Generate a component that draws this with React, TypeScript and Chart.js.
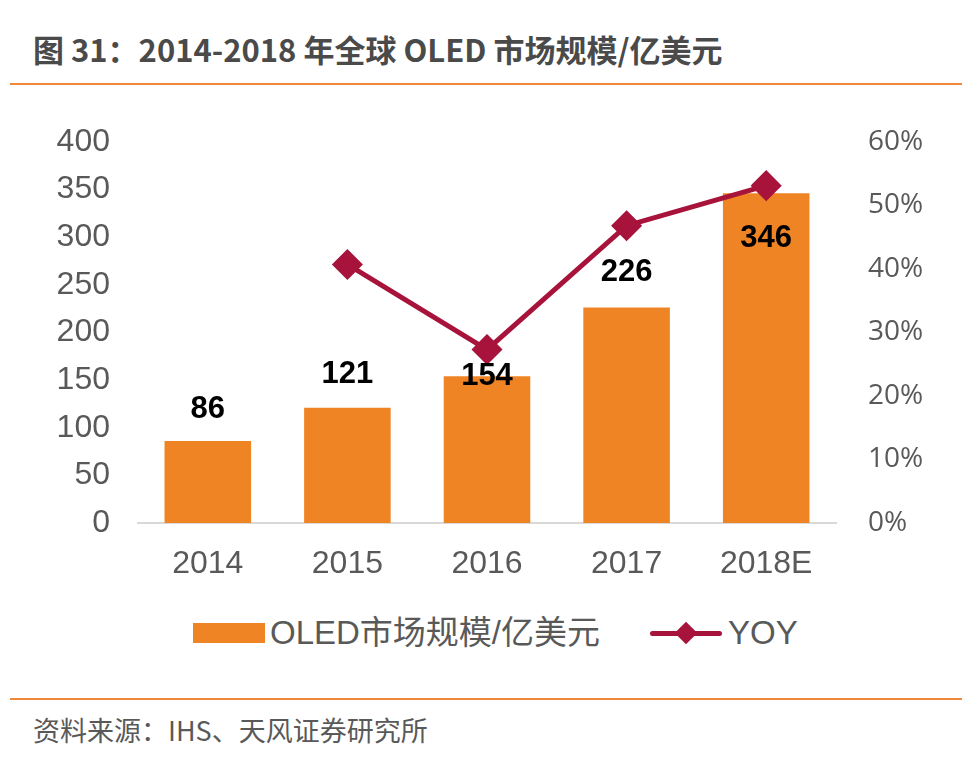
import React, { useEffect, useRef } from "react";
import { Chart, registerables } from "chart.js";

Chart.register(...registerables);

const categories = ["2014", "2015", "2016", "2017", "2018E"];
const marketSize = [86, 121, 154, 226, 346];
const yoy = [null, 0.407, 0.273, 0.468, 0.531];
const leftTicks = [0, 50, 100, 150, 200, 250, 300, 350, 400];
const rightTicks = [0, 0.1, 0.2, 0.3, 0.4, 0.5, 0.6];

const BAR_COLOR = "#EF8425";
const LINE_COLOR = "#A8133C";
const TICK_COLOR = "#595959";
const NUM_FONT = "'Liberation Sans', Arial, sans-serif";
const PCT_FONT = "'Open Sans', 'Noto Sans', sans-serif";
const CJK_FONT = "'Noto Sans CJK SC', 'Liberation Sans', sans-serif";
const LEGEND_FONT = "'Liberation Sans', 'Noto Sans CJK SC', sans-serif";

// vertical shift (px) of each bar's value label relative to the bar top
const labelShift = [-32, -33, 0, -35, 45];

const barLabels = {
  id: "barLabels",
  afterDatasetsDraw(chart: any) {
    const meta = chart.getDatasetMeta(0);
    const ctx = chart.ctx;
    ctx.save();
    ctx.font = `bold 31px ${NUM_FONT}`;
    ctx.fillStyle = "#000000";
    ctx.textAlign = "center";
    ctx.textBaseline = "middle";
    meta.data.forEach((el: any, i: number) => {
      ctx.fillText(String(marketSize[i]), el.x, el.y + labelShift[i]);
    });
    ctx.restore();
  },
};

export default function App() {
  const ref = useRef<HTMLCanvasElement | null>(null);

  useEffect(() => {
    if (!ref.current) return;
    const chart = new Chart(ref.current, {
      type: "bar",
      data: {
        labels: categories,
        datasets: [
          {
            type: "bar",
            label: "OLED市场规模/亿美元",
            data: marketSize,
            backgroundColor: BAR_COLOR,
            yAxisID: "y",
            order: 2,
            categoryPercentage: 1,
            barPercentage: 0.62,
          },
          {
            type: "line",
            label: "YOY",
            data: yoy as any,
            borderColor: LINE_COLOR,
            backgroundColor: LINE_COLOR,
            borderWidth: 5,
            pointStyle: "rectRot",
            pointRadius: 12,
            pointHoverRadius: 12,
            yAxisID: "y1",
            order: 1,
            spanGaps: false,
          } as any,
        ],
      },
      options: {
        animation: false,
        responsive: false,
        maintainAspectRatio: false,
        layout: { padding: { top: 34, left: 0, right: 0, bottom: 0 } },
        plugins: {
          legend: { display: false },
          tooltip: { enabled: false },
        },
        scales: {
          x: {
            grid: { display: false, drawTicks: false },
            border: { display: true, color: "#D9D9D9", width: 2 },
            ticks: {
              color: TICK_COLOR,
              font: { size: 32, family: NUM_FONT },
              padding: 22,
            },
            afterFit(scale: any) {
              scale.height = 77;
            },
          },
          y: {
            position: "left",
            min: 0,
            max: 400,
            afterBuildTicks(scale: any) {
              scale.ticks = leftTicks.map((v) => ({ value: v }));
            },
            grid: { display: false, drawTicks: false },
            border: { display: false },
            ticks: {
              color: TICK_COLOR,
              font: { size: 32, family: NUM_FONT },
              padding: 28,
            },
            afterFit(scale: any) {
              scale.width = 138;
            },
          },
          y1: {
            position: "right",
            min: 0,
            max: 0.6,
            afterBuildTicks(scale: any) {
              scale.ticks = rightTicks.map((v) => ({ value: v }));
            },
            grid: { display: false, drawTicks: false },
            border: { display: false },
            ticks: {
              color: TICK_COLOR,
              font: { size: 28, family: PCT_FONT },
              padding: 32,
              callback: (v: any) => `${Math.round(Number(v) * 100)}%`,
            },
            afterFit(scale: any) {
              scale.width = 126;
            },
          },
        },
      },
      plugins: [barLabels],
    });
    return () => chart.destroy();
  }, []);

  return (
    <div
      style={{
        position: "absolute",
        left: 0,
        top: 0,
        width: 962,
        height: 768,
        background: "#ffffff",
        overflow: "hidden",
      }}
    >
      <div
        style={{
          position: "absolute",
          left: 33,
          top: 27,
          fontFamily: CJK_FONT,
          fontWeight: 700,
          fontSize: 31,
          color: "#4A4A4A",
          whiteSpace: "nowrap",
          lineHeight: "44px",
        }}
      >
        图 31：2014-2018 年全球 OLED 市场规模/亿美元
      </div>
      <div
        style={{
          position: "absolute",
          left: 10,
          top: 83,
          width: 952,
          height: 2,
          background: "#F0883A",
        }}
      />
      <canvas
        ref={ref}
        width={962}
        height={507}
        style={{ position: "absolute", left: 0, top: 93, width: 962, height: 507 }}
      />
      <div
        style={{
          position: "absolute",
          left: 0,
          top: 610,
          width: 962,
          height: 46,
          fontFamily: LEGEND_FONT,
          fontSize: 33,
          color: "#595959",
          whiteSpace: "nowrap",
        }}
      >
        <div
          style={{
            position: "absolute",
            left: 193,
            top: 13,
            width: 72,
            height: 20,
            background: BAR_COLOR,
          }}
        />
        <div style={{ position: "absolute", left: 270, top: 0, lineHeight: "46px" }}>
          OLED市场规模/亿美元
        </div>
        <div
          style={{
            position: "absolute",
            left: 650,
            top: 21,
            width: 72,
            height: 5,
            borderRadius: 3,
            background: LINE_COLOR,
          }}
        />
        <div
          style={{
            position: "absolute",
            left: 678,
            top: 15,
            width: 16,
            height: 16,
            transform: "rotate(45deg)",
            background: LINE_COLOR,
          }}
        />
        <div style={{ position: "absolute", left: 728, top: 0, lineHeight: "46px" }}>
          YOY
        </div>
      </div>
      <div
        style={{
          position: "absolute",
          left: 10,
          top: 698,
          width: 952,
          height: 2,
          background: "#F0883A",
        }}
      />
      <div
        style={{
          position: "absolute",
          left: 33,
          top: 712,
          fontFamily: CJK_FONT,
          fontSize: 27,
          color: "#595959",
          whiteSpace: "nowrap",
          lineHeight: "36px",
        }}
      >
        资料来源：IHS、天风证券研究所
      </div>
    </div>
  );
}
